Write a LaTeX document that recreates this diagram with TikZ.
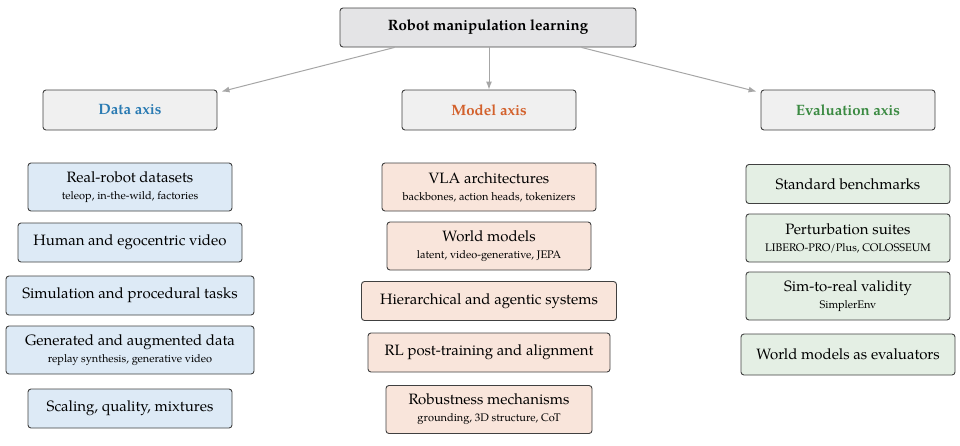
\documentclass[tikz,border=0pt]{standalone}
\usepackage{fontspec}
\setmainfont{TeX Gyre Pagella}
\usetikzlibrary{arrows.meta}
\definecolor{rootfill}{HTML}{E4E4E6}
\definecolor{axisfill}{HTML}{F0F0F0}
\definecolor{datafill}{HTML}{DDEAF6}
\definecolor{modelfill}{HTML}{F9E5DB}
\definecolor{evalfill}{HTML}{E4EFE4}
\definecolor{datatext}{HTML}{2B7BB3}
\definecolor{modeltext}{HTML}{D3612C}
\definecolor{evaltext}{HTML}{3B8A42}
\begin{document}
\begin{tikzpicture}[x=1pt,y=-1pt]

\tikzset{
box/.style={draw=black!75,rounded corners=3pt,line width=0.9pt,align=center,inner sep=0pt},
root/.style={box,fill=rootfill,minimum width=296pt,minimum height=39pt,font={\fontsize{15pt}{18pt}\selectfont\bfseries}},
axis/.style={box,fill=axisfill,minimum width=174pt,minimum height=40pt,font={\fontsize{15pt}{18pt}\selectfont\bfseries}},
item/.style={box,minimum height=39pt,font={\fontsize{15pt}{18pt}\selectfont}},
sub/.style={font={\fontsize{11pt}{14pt}\selectfont}},
link/.style={-{Latex[length=8pt,width=6pt]},draw=black!35,line width=1pt}
}
\useasboundingbox (0,0) rectangle (960,445);

% top
\node[root] (robot) at (488,27.5) {Robot manipulation learning};

% axes
\node[axis,text=datatext]  (data)  at (130,110) {Data axis};
\node[axis,text=modeltext] (model) at (489,110) {Model axis};
\node[axis,text=evaltext]  (eval)  at (848,110) {Evaluation axis};

% data column
\node[item,fill=datafill,minimum width=204pt,minimum height=48pt] (d1) at (130,187) {Real-robot datasets\\[-1pt]{\fontsize{11pt}{13pt}\selectfont teleop, in-the-wild, factories}};
\node[item,fill=datafill,minimum width=224pt] (d2) at (130,242.5) {Human and egocentric video};
\node[item,fill=datafill,minimum width=248pt] (d3) at (130,295.5) {Simulation and procedural tasks};
\node[item,fill=datafill,minimum width=248pt,minimum height=48pt] (d4) at (130,350) {Generated and augmented data\\[-1pt]{\fontsize{11pt}{13pt}\selectfont replay synthesis, generative video}};
\node[item,fill=datafill,minimum width=204pt] (d5) at (130,408.5) {Scaling, quality, mixtures};

% model column
\node[item,fill=modelfill,minimum width=214pt,minimum height=48pt] (m1) at (489,187) {VLA architectures\\[-1pt]{\fontsize{11pt}{13pt}\selectfont backbones, action heads, tokenizers}};
\node[item,fill=modelfill,minimum width=204pt,minimum height=48pt] (m2) at (489,246) {World models\\[-1pt]{\fontsize{11pt}{13pt}\selectfont latent, video-generative, JEPA}};
\node[item,fill=modelfill,minimum width=255pt] (m3) at (489,301) {Hierarchical and agentic systems};
\node[item,fill=modelfill,minimum width=242pt] (m4) at (489,352.5) {RL post-training and alignment};
\node[item,fill=modelfill,minimum width=206pt,minimum height=48pt] (m5) at (489,409.5) {Robustness mechanisms\\[-1pt]{\fontsize{11pt}{13pt}\selectfont grounding, 3D structure, CoT}};

% evaluation column
\node[item,fill=evalfill,minimum width=204pt] (e1) at (848,184) {Standard benchmarks};
\node[item,fill=evalfill,minimum width=204pt,minimum height=48pt] (e2) at (848,238) {Perturbation suites\\[-1pt]{\fontsize{11pt}{13pt}\selectfont LIBERO-PRO/Plus, COLOSSEUM}};
\node[item,fill=evalfill,minimum width=204pt,minimum height=48pt] (e3) at (848,296) {Sim-to-real validity\\[-1pt]{\fontsize{11pt}{13pt}\selectfont SimplerEnv}};
\node[item,fill=evalfill,minimum width=214pt,minimum height=41pt] (e4) at (848,354.5) {World models as evaluators};

% arrows
\draw[link] (robot.south west) ++(55,0) -- ([xshift=4pt,yshift=-2pt]data.north east);
\draw[link] (robot.south) ++(1,0) -- (model.north);
\draw[link] (robot.south east) ++(-55,0) -- ([xshift=-4pt,yshift=-2pt]eval.north west);

\end{tikzpicture}
\end{document}
